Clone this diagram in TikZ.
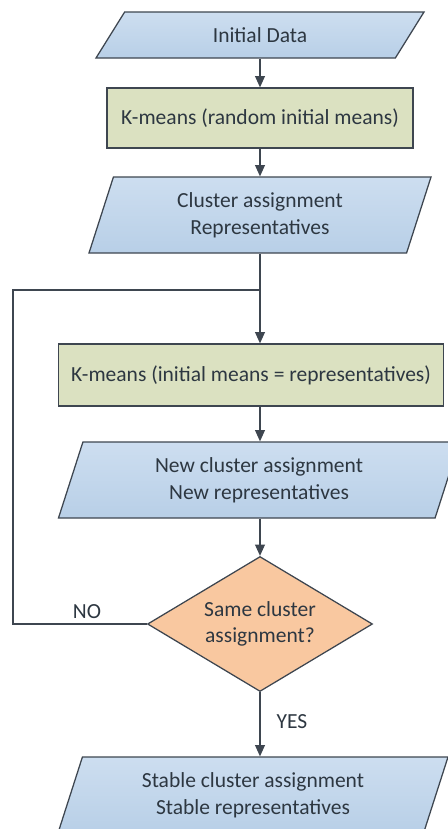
\documentclass[tikz,border=0pt]{standalone}
\usepackage{fontspec}
\setmainfont{Carlito}
\usepackage{tikz}
\usetikzlibrary{shapes.geometric}
\usetikzlibrary{arrows.meta}

\definecolor{ioblue}{RGB}{184,207,231}
\definecolor{iobluetop}{RGB}{205,222,240}
\definecolor{procgreen}{RGB}{219,225,193}
\definecolor{decorange}{RGB}{249,200,160}
\definecolor{edgegray}{RGB}{62,70,80}
\definecolor{txtgray}{RGB}{45,55,65}

\tikzset{
  io/.style={shape=trapezium, trapezium left angle=63, trapezium right angle=117,
    trapezium stretches body, draw=edgegray, line width=0.9pt,
    top color=iobluetop, bottom color=ioblue, inner sep=1pt, align=center,
    minimum height=1.9cm},
  process/.style={shape=rectangle, draw=edgegray, line width=0.9pt,
    fill=procgreen, inner sep=1pt, align=center},
  decision/.style={shape=diamond, draw=edgegray, line width=0.9pt,
    fill=decorange, inner sep=-6pt, align=center},
  flow/.style={draw=edgegray, line width=0.9pt},
  tip/.style={-{Triangle[width=7pt,length=8pt]}},
}

\begin{document}
\begin{tikzpicture}[font=\fontsize{15.3}{19}\selectfont, text=txtgray]
\useasboundingbox (0,0) rectangle (11.2,-20.725);

\node[io, trapezium left angle=32, trapezium right angle=148, minimum width=8.2cm, minimum height=1.15cm] (data) at (6.5,-0.875) {Initial Data};
\node[process, minimum width=7.65cm, minimum height=1.5cm] (kmeans1) at (6.5,-2.95) {K-means (random initial means)};
\node[io, minimum width=8.55cm] (cluster) at (6.5,-5.375) {Cluster assignment\\Representatives};
\node[process, minimum width=9.625cm, minimum height=1.55cm] (kmeans2) at (6.275,-9.375) {K-means (initial means = representatives)};
\node[io, minimum width=10.025cm] (new) at (6.475,-12.0) {New cluster assignment\\New representatives};
\node[decision, minimum width=5.625cm, minimum height=3.375cm] (check) at (6.5,-15.6) {Same cluster\\assignment?};
\node[io, minimum width=9.75cm] (stable) at (6.325,-19.875) {Stable cluster assignment\\Stable representatives};

\coordinate (join) at (6.5,-7.25);
\coordinate (back) at (0.325,-15.6);

\node (no) at (2.175,-15.3) {NO};
\node (yes) at (7.3,-18.05) {YES};

\draw[flow, tip] (data.south -| join) -- (join |- kmeans1.north);
\draw[flow, tip] (kmeans1.south -| join) -- (join |- cluster.north);
\draw[flow] (cluster.south -| join) -- (join);
\draw[flow, tip] (join) -- (join |- kmeans2.north);
\draw[flow, tip] (join |- kmeans2.south) -- (join |- new.north);
\draw[flow, tip] (new.south -| join) -- (check.north);
\draw[flow, tip] (check.south) -- (check.south |- stable.north);
\draw[flow] (check.west) -- (back) |- (join);
\end{tikzpicture}
\end{document}
